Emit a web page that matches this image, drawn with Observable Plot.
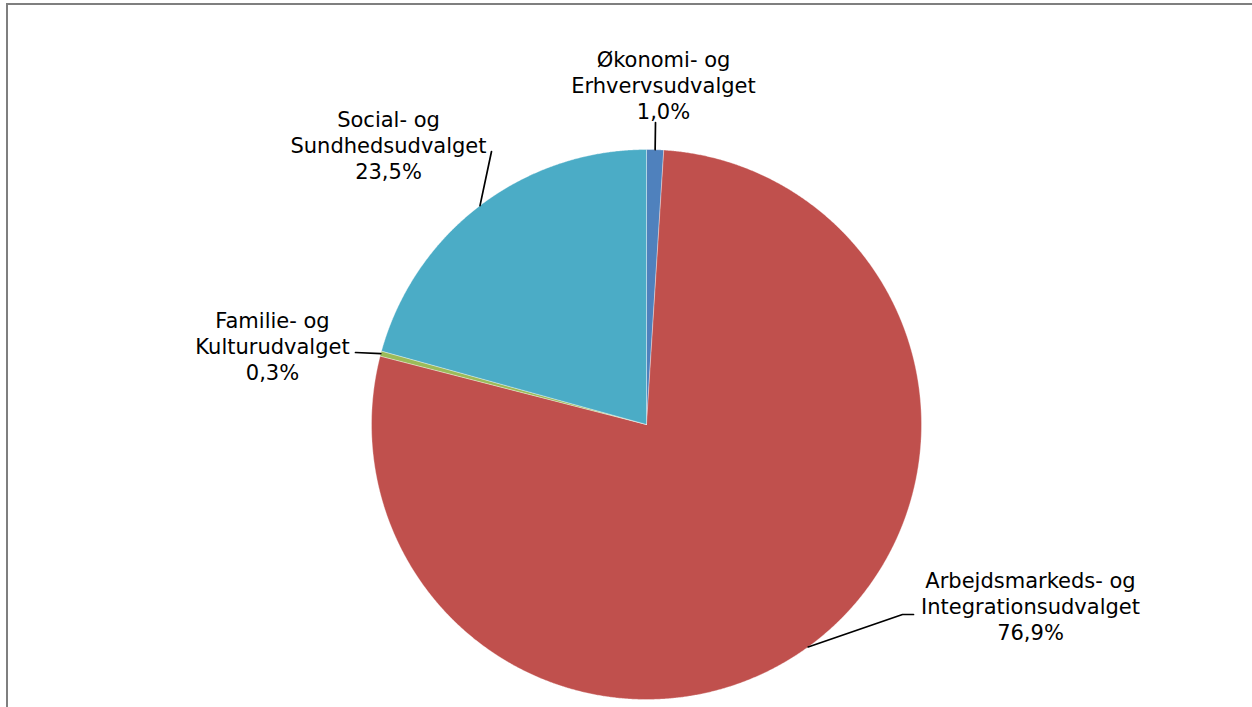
<!DOCTYPE html>
<html><head><meta charset="utf-8">
<script src="https://cdn.jsdelivr.net/npm/d3@7"></script>
<script src="https://cdn.jsdelivr.net/npm/@observablehq/plot@0.6"></script>
<style>
html,body{margin:0;padding:0;background:#fff;overflow:hidden;}
#wrap{position:relative;width:1252px;height:707px;overflow:hidden;}
#frame{position:absolute;left:6px;top:3px;width:1400px;height:900px;border:2px solid #7f7f7f;box-sizing:border-box;}
#chart{position:absolute;left:0;top:0;}
</style></head><body>
<div id="wrap"><div id="frame"></div><div id="chart"></div></div>
<script>
// ---- data (clockwise from 12 o'clock) ----
const categories = [
  "Økonomi- og Erhvervsudvalget",
  "Arbejdsmarkeds- og Integrationsudvalget",
  "Familie- og Kulturudvalget",
  "Social- og Sundhedsudvalget"
];
// percentages as printed on the labels
const labelPercent = [1.0, 76.9, 0.3, 23.5];
// slice shares as drawn (measured from the slice angles)
const sliceShare = [1.0, 78.0, 0.3, 20.7];
const colors = ["#4F81BD", "#C0504D", "#9BBB59", "#4BACC6"];

// ---- layout (pixels) ----
const W = 1252, H = 707, cx = 646, cy = 424, R = 275;
const labelCenter = [[663, 84], [1030, 605], [272, 345], [388, 144]];
const leaderEnd = [[[655, 122]], [[902, 614], [913, 614]], [[355, 352]], [[491, 151]]];
const px = p => (p - cx) / R, py = p => (cy - p) / R;

// ---- geometry ----
const total = d3.sum(sliceShare);
let acc = 0;
const slices = categories.map((c, i) => {
  const a0 = acc / total * 2 * Math.PI; acc += sliceShare[i];
  const a1 = acc / total * 2 * Math.PI;
  return {c, i, a0, a1, mid: (a0 + a1) / 2};
});
const poly = [];
for (const s of slices) {
  poly.push({c: s.c, x: 0, y: 0});
  const n = Math.max(2, Math.ceil((s.a1 - s.a0) / (Math.PI / 720)));
  for (let k = 0; k <= n; k++) {
    const a = s.a0 + (s.a1 - s.a0) * k / n;
    poly.push({c: s.c, x: Math.sin(a), y: Math.cos(a)});
  }
  poly.push({c: s.c, x: 0, y: 0});
}
const leaders = [];
for (const s of slices) {
  leaders.push({c: s.c, x: Math.sin(s.mid), y: Math.cos(s.mid)});
  for (const [ex, ey] of leaderEnd[s.i]) leaders.push({c: s.c, x: px(ex), y: py(ey)});
}
const fmt = v => v.toFixed(1).replace(".", ",") + "%";
const labels = slices.map(s => ({
  text: s.c.replace("- og ", "- og\n") + "\n" + fmt(labelPercent[s.i]),
  x: px(labelCenter[s.i][0]), y: py(labelCenter[s.i][1])
}));

const chart = Plot.plot({
  width: W, height: H, margin: 0,
  x: {domain: [px(0), px(W)], axis: null},
  y: {domain: [py(H), py(0)], axis: null},
  color: {domain: categories, range: colors},
  style: {background: "transparent", fontFamily: "'DejaVu Sans', Verdana, sans-serif", color: "#000"},
  marks: [
    Plot.line(poly, {x: "x", y: "y", z: "c", fill: "c", stroke: "white", strokeWidth: 0.7, strokeOpacity: 0.5, curve: "linear"}),
    Plot.line(leaders, {x: "x", y: "y", z: "c", stroke: "black", strokeWidth: 1.7, curve: "linear"}),
    Plot.text(labels, {x: "x", y: "y", text: "text", fontSize: 21, lineHeight: 1.24, fill: "#000", textAnchor: "middle", lineAnchor: "middle"})
  ]
});
document.getElementById("chart").appendChild(chart);
</script>
</body></html>
